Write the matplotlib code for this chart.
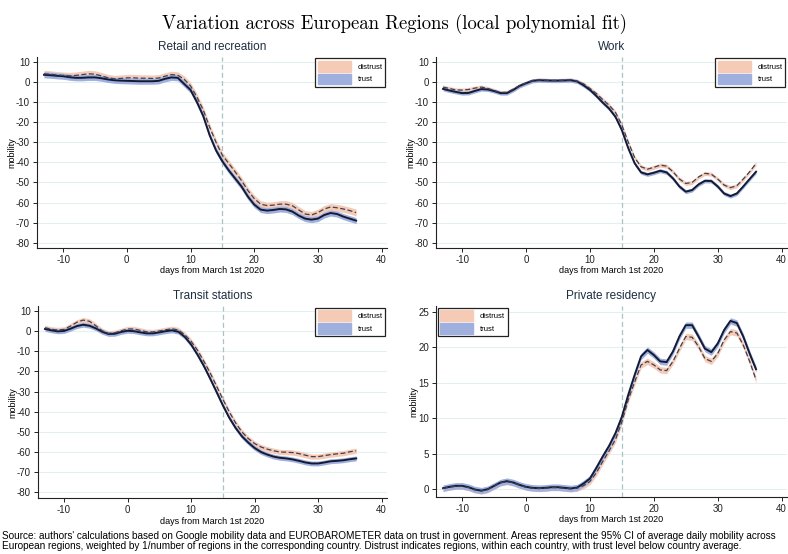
import numpy as np
import matplotlib
matplotlib.use('Agg')
import matplotlib.pyplot as plt
from matplotlib.patches import Patch

plt.rcParams['font.family'] = ['Liberation Sans', 'DejaVu Sans']
plt.rcParams['axes.unicode_minus'] = False

# days from March 1st 2020
dias = np.arange(-13, 37)

# --- valores ---
retail_trust = [3.5, 3.3, 3.0, 2.8, 2.3, 2.0, 2.0, 2.2, 2.2, 1.8, 1.2, 0.8, 0.6, 0.5, 0.4, 0.3, 0.3, 0.3, 0.5, 1.5, 2.2, 2.0,
                -1.0, -4.0, -10.0, -17.0, -26.5, -34.0, -39.5, -44.0, -48.0, -52.0, -57.0, -61.0, -63.5, -64.0,
                -63.7, -63.2, -63.4, -64.5, -66.5, -68.0, -68.5, -68.0, -66.2, -65.2, -65.7, -67.0, -68.0, -69.0]
retail_distrust = [4.0, 3.8, 3.4, 3.2, 3.0, 3.2, 3.6, 4.0, 3.8, 3.0, 2.0, 1.5, 1.7, 2.0, 2.0, 1.8, 1.8, 1.7, 1.9, 2.8, 3.6, 3.3,
                   1.3, -2.0, -7.5, -14.0, -22.5, -30.0, -36.5, -40.5, -44.7, -49.0, -54.0, -58.0, -60.8, -61.5,
                   -61.3, -60.8, -60.8, -61.6, -63.7, -65.7, -66.2, -65.0, -63.2, -62.2, -62.6, -63.2, -64.0, -65.0]

work_trust = [-3.5, -4.3, -5.0, -5.6, -5.5, -4.5, -3.6, -3.8, -4.6, -5.6, -5.6, -4.0, -2.0, -0.7, 0.5, 0.8, 0.7, 0.6, 0.6, 0.7, 0.8, 0.2,
              -1.7, -4.0, -7.0, -10.3, -13.3, -17.4, -24.0, -33.0, -40.5, -45.0, -46.0, -45.2, -44.2, -45.0,
              -48.0, -52.0, -54.6, -53.8, -51.0, -49.2, -49.3, -52.0, -55.5, -56.8, -55.5, -52.0, -48.3, -44.7]
work_distrust = [-2.6, -3.3, -4.0, -4.1, -3.8, -3.1, -2.6, -3.3, -4.3, -5.3, -5.2, -3.6, -1.8, -0.5, 0.6, 0.9, 0.8, 0.7, 0.7, 0.8, 0.9, 0.3,
                 -1.0, -3.3, -5.8, -8.8, -11.6, -15.2, -21.5, -30.0, -37.7, -42.2, -43.4, -42.5, -41.4, -41.9,
                 -44.7, -48.3, -50.5, -50.0, -47.3, -45.5, -45.9, -48.3, -51.3, -52.6, -51.6, -48.3, -44.7, -40.6]

transit_trust = [1.1, 0.4, -0.1, 0.1, 1.2, 2.5, 3.2, 2.7, 1.4, -0.3, -1.4, -1.3, -0.4, 0.2, 0.0, -0.6, -1.1, -1.1, -0.6, 0.0, 0.4, -0.3,
                 -2.8, -6.6, -11.6, -17.2, -23.5, -30.1, -36.8, -42.9, -48.0, -52.2, -55.3, -58.0, -60.0, -61.3,
                 -62.3, -62.9, -63.2, -63.7, -64.4, -65.2, -65.7, -65.7, -65.2, -64.6, -64.4, -64.1, -63.6, -63.2]
transit_distrust = [1.7, 0.9, 0.6, 0.9, 2.5, 4.4, 5.5, 4.9, 2.7, 0.2, -1.1, -0.8, 0.2, 1.1, 1.1, 0.4, -0.3, -0.4, 0.1, 0.7, 1.2, 0.6,
                    -1.7, -5.0, -9.4, -14.9, -20.7, -27.2, -33.8, -40.0, -45.5, -50.0, -53.3, -55.8, -57.5, -58.6,
                    -59.4, -60.0, -60.1, -60.3, -60.8, -61.6, -62.3, -62.3, -61.8, -61.3, -60.9, -60.6, -59.9, -59.4]

resid_trust = [0.14, 0.33, 0.47, 0.47, 0.28, -0.05, -0.2, 0.0, 0.47, 0.94, 1.13, 0.94, 0.6, 0.33, 0.19, 0.14, 0.19, 0.28, 0.28, 0.19, 0.1, 0.23,
               0.8, 1.5, 3.0, 4.6, 6.1, 7.9, 10.2, 13.3, 16.1, 18.7, 19.6, 18.9, 18.0, 17.9,
               19.4, 21.5, 23.1, 23.1, 21.5, 19.8, 19.3, 20.5, 22.4, 23.7, 23.4, 21.5, 19.1, 16.9]
resid_distrust = [0.1, 0.3, 0.42, 0.42, 0.23, -0.1, -0.25, -0.05, 0.42, 0.9, 1.08, 0.9, 0.55, 0.28, 0.14, 0.1, 0.14, 0.23, 0.23, 0.14, 0.05, 0.15,
                  0.5, 1.1, 2.3, 3.9, 5.4, 7.0, 9.5, 12.6, 15.1, 17.5, 18.0, 17.5, 16.8, 16.7,
                  18.0, 19.8, 21.5, 21.4, 20.1, 18.4, 18.0, 19.1, 21.0, 22.2, 22.0, 20.3, 18.0, 15.4]

# meia largura do IC 95% (trust, distrust)
ci_retail = (1.5, 1.7)
ci_work = (1.0, 1.0)
ci_transit = (1.2, 1.3)
ci_resid = (0.45, 0.45)

titulos = ['Retail and recreation', 'Work', 'Transit stations', 'Private residency']

cor_trust = '#9fb0df'
cor_distrust = '#f6cbb6'
cor_titulo = '#1e2f40'

fig = plt.figure(figsize=(7.88, 5.54), dpi=100)
fig.text(0.5, 0.975, 'Variation across European Regions (local polynomial fit)',
         ha='center', va='top', fontsize=13.5, family='cmr10')

W, H = 788, 554
# posicoes em pixels: esquerda, topo, direita, base
caixas = [(37, 56.7, 387, 248), (436, 56.7, 787, 248), (38, 306, 387, 498.3), (436, 306, 787, 497)]

paineis = [
    (retail_trust, retail_distrust, ci_retail, (-82.6, 12.5), np.arange(-80, 11, 10), 'upper right'),
    (work_trust, work_distrust, ci_work, (-82.6, 12.5), np.arange(-80, 11, 10), 'upper right'),
    (transit_trust, transit_distrust, ci_transit, (-83.0, 12.5), np.arange(-80, 11, 10), 'upper right'),
    (resid_trust, resid_distrust, ci_resid, (-1.1, 25.8), np.arange(0, 26, 5), 'upper left'),
]

for (l, t, r, b), titulo, (tr, dis, ci, ylim, yt, loc) in zip(caixas, titulos, paineis):
    ax = fig.add_axes([l / W, 1 - b / H, (r - l) / W, (b - t) / H])
    tr = np.array(tr)
    dis = np.array(dis)

    ax.fill_between(dias, dis - ci[1], dis + ci[1], color=cor_distrust, lw=0, zorder=2)
    ax.fill_between(dias, tr - ci[0], tr + ci[0], color=cor_trust, lw=0, zorder=3)
    ax.plot(dias, tr, color='#141a33', lw=1.4, zorder=5)
    ax.plot(dias, dis, color='#3c4058', lw=0.9, dashes=(4, 2), zorder=6)
    ax.axvline(15, color='#a9c3c4', lw=0.9, dashes=(4, 2.5), zorder=4)

    ax.set_xlim(-14.1, 40.85)
    ax.set_ylim(*ylim)
    ax.set_xticks([-10, 0, 10, 20, 30, 40])
    ax.set_yticks(yt)
    ax.grid(axis='y', color='#e6eff0', lw=0.8, zorder=0)
    ax.set_axisbelow(True)
    for s in ['top', 'right']:
        ax.spines[s].set_visible(False)
    for s in ['left', 'bottom']:
        ax.spines[s].set_color('#222222')
        ax.spines[s].set_linewidth(0.8)
    ax.tick_params(labelsize=7, length=3, width=0.7, pad=2, colors='#222222')
    ax.set_xlabel('days from March 1st 2020', fontsize=6.5, labelpad=1)
    ax.set_ylabel('mobility', fontsize=6.5, labelpad=0)
    ax.set_title(titulo, fontsize=8.5, color=cor_titulo, pad=5)

    leg = ax.legend(handles=[Patch(color=cor_distrust, label='distrust'), Patch(color=cor_trust, label='trust')],
                    loc=loc, fontsize=5.5, frameon=True, fancybox=False, borderaxespad=0.2,
                    handlelength=4.3, handleheight=1.8, borderpad=0.35, labelspacing=0.25, handletextpad=0.9)
    leg.get_frame().set_edgecolor('#222222')
    leg.get_frame().set_linewidth(0.9)
    leg.get_frame().set_alpha(1)

nota = ("Source: authors' calculations based on Google mobility data and EUROBAROMETER data on trust in government. "
        "Areas represent the 95% CI of average daily mobility across\n"
        "European regions, weighted by 1/number of regions in the corresponding country. "
        "Distrust indicates regions, within each country, with trust level below country average.")
fig.text(0.003, 1 - 531 / H, nota, ha='left', va='top', fontsize=7.2, linespacing=1.0)

plt.savefig('out.png', dpi=100)
